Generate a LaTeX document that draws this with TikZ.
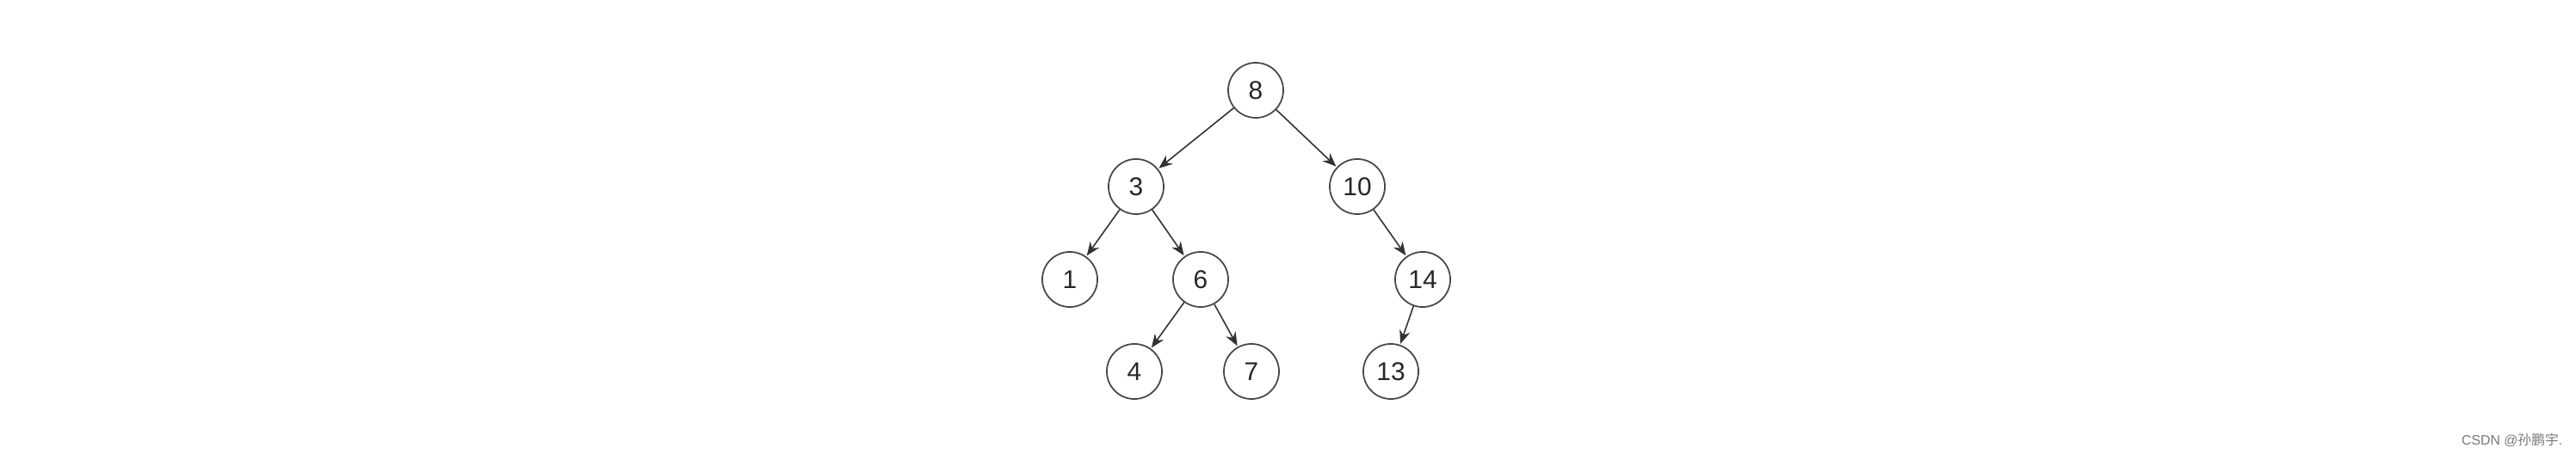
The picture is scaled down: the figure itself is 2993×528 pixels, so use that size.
\documentclass[tikz,border=0pt]{standalone}
\usepackage{fontspec}
\setmainfont{Liberation Sans}
\newfontfamily\cjkfont{Noto Sans CJK SC}
\usepackage{tikz}
\usetikzlibrary{arrows.meta}
\definecolor{EdgeColor}{RGB}{50,50,50}
\definecolor{MarkColor}{RGB}{120,120,120}
\tikzstyle{treenode} = [circle, draw=EdgeColor!90, line width=0.5pt, minimum size=0.64cm, inner sep=0pt, font=\fontsize{8.5}{10}\selectfont, text=black!85]
\tikzstyle{arrow} = [line width=0.45pt, EdgeColor, -{Stealth[length=4.5pt, width=3.6pt]}, shorten >=0.3pt]

\begin{document}
\begin{tikzpicture}[x=0.01cm, y=-0.01cm]
                \useasboundingbox (0,0) rectangle (2993,528);

                % tree nodes: name/x/y/label
                \foreach \n/\x/\y in {8/1459/105, 3/1320/217, 10/1577/217, 1/1243/325, 6/1395/325,
                                      14/1653/325, 4/1318/432, 7/1454/432, 13/1616/432} {
                    \node[treenode] (n\n) at (\x,\y) {\n};
                }

                % edges parent -> child
                \foreach \a/\b in {8/3, 8/10, 3/1, 3/6, 6/4, 6/7, 10/14, 14/13} {
                    \draw[arrow] (n\a) -- (n\b);
                }

                % watermark
                \node[anchor=east, text=MarkColor, font=\fontsize{4.5}{5.5}\selectfont, inner sep=0pt] (mark) at (2978,512) {CSDN @{\cjkfont 孙鹏宇}.};
            \end{tikzpicture}
\end{document}
